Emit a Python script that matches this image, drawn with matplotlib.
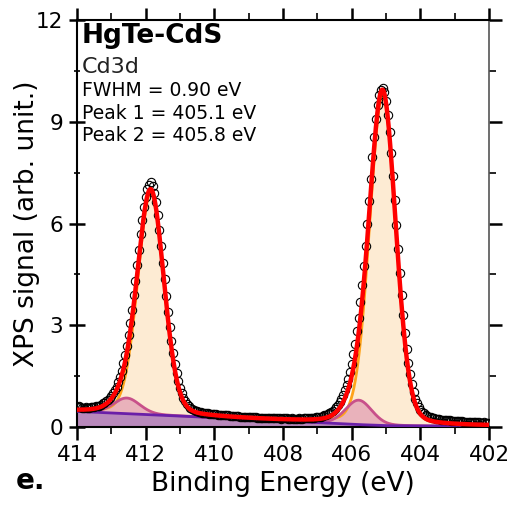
import numpy as np
import matplotlib
matplotlib.use("Agg")
import matplotlib.pyplot as plt

plt.rcParams['font.family'] = ['DejaVu Sans']

# measured XPS data (Cd3d), 414.00 -> 402.00 eV in 0.05 eV steps
signal = [
    0.60, 0.62, 0.58, 0.56, 0.57, 0.59, 0.57, 0.56, 0.58, 0.60, 0.59, 0.61, 0.62, 0.63, 0.66, 0.70, 0.72, 0.76, 0.80, 0.86,
    0.92, 0.99, 1.08, 1.19, 1.32, 1.48, 1.66, 1.88, 2.12, 2.40, 2.70, 3.06, 3.45, 3.88, 4.32, 4.78, 5.22, 5.68, 6.10, 6.48,
    6.78, 7.02, 7.15, 7.22, 7.10, 6.90, 6.62, 6.25, 5.82, 5.35, 4.85, 4.35, 3.86, 3.40, 2.95, 2.55, 2.18, 1.85, 1.58, 1.35,
    1.15, 0.99, 0.86, 0.76, 0.68, 0.62, 0.57, 0.53, 0.50, 0.48, 0.46, 0.45, 0.43, 0.42, 0.41, 0.41, 0.40, 0.39, 0.38, 0.38,
    0.37, 0.37, 0.36, 0.35, 0.35, 0.34, 0.34, 0.35, 0.34, 0.33, 0.33, 0.32, 0.32, 0.33, 0.32, 0.31, 0.31, 0.30, 0.30, 0.31,
    0.30, 0.29, 0.29, 0.30, 0.29, 0.28, 0.28, 0.28, 0.28, 0.27, 0.27, 0.28, 0.27, 0.26, 0.27, 0.26, 0.26, 0.27, 0.26, 0.25,
    0.26, 0.26, 0.26, 0.25, 0.25, 0.26, 0.25, 0.25, 0.25, 0.26, 0.25, 0.25, 0.26, 0.26, 0.26, 0.27, 0.27, 0.27, 0.28, 0.29,
    0.29, 0.30, 0.31, 0.33, 0.34, 0.36, 0.38, 0.41, 0.44, 0.48, 0.53, 0.59, 0.66, 0.74, 0.84, 0.95, 1.08, 1.24, 1.42, 1.63,
    1.86, 2.14, 2.45, 2.82, 3.22, 3.68, 4.18, 4.75, 5.35, 6.00, 6.65, 7.32, 7.95, 8.55, 9.08, 9.50, 9.80, 9.95, 10.00, 9.88,
    9.62, 9.20, 8.70, 8.08, 7.40, 6.68, 5.95, 5.25, 4.55, 3.90, 3.30, 2.78, 2.30, 1.90, 1.55, 1.26, 1.02, 0.84, 0.70, 0.59,
    0.50, 0.44, 0.40, 0.36, 0.33, 0.31, 0.29, 0.27, 0.26, 0.25, 0.24, 0.23, 0.22, 0.22, 0.21, 0.20, 0.20, 0.20, 0.19, 0.18,
    0.18, 0.18, 0.17, 0.17, 0.17, 0.16, 0.16, 0.16, 0.15, 0.15, 0.15, 0.14, 0.14, 0.15, 0.14, 0.13, 0.13, 0.14, 0.13, 0.12,
    0.12]
energy = np.linspace(414.0, 402.0, len(signal))

# fit components (pseudo-Voigt), FWHM = 0.90 eV
fwhm = 0.90
main_centers = [405.1, 411.85]
main_heights = [9.75, 6.55]
second_centers = [405.8, 412.55]
second_heights = [0.72, 0.46]
eta = 0.15

# background knots
bg_energy = [414.0, 412.0, 410.0, 408.0, 406.0, 405.0, 404.0, 402.0]
bg_values = [0.46, 0.37, 0.28, 0.18, 0.08, 0.04, 0.03, 0.03]


def pvoigt(x, c, h, w):
    d = x - c
    g = np.exp(-4 * np.log(2) * (d / w) ** 2)
    l = 1.0 / (1.0 + (2 * d / w) ** 2)
    return h * ((1 - eta) * g + eta * l)


x = np.linspace(414, 402, 1201)
bg = np.interp(x, bg_energy[::-1], bg_values[::-1])
main = sum(pvoigt(x, c, h, fwhm) for c, h in zip(main_centers, main_heights))
sec = sum(pvoigt(x, c, h, fwhm) for c, h in zip(second_centers, second_heights))
total = bg + main + sec

fig = plt.figure(figsize=(5.12, 5.08), dpi=100)
ax = fig.add_axes([0.1504, 0.1594, 0.805, 0.8012])

ax.fill_between(x, bg, bg + main, color='#fdebd3', lw=0, zorder=1)
ax.fill_between(x, bg, bg + sec, color='#e9b2bb', lw=0, zorder=2)
ax.fill_between(x, 0, bg, color='#b888bb', lw=0, zorder=2)
ax.plot(x, bg + main, color='#ffa31a', lw=2, zorder=3)
ax.plot(x, bg + sec, color='#c8508a', lw=2, zorder=3)
ax.plot(x, bg, color='#6a1fa8', lw=2, zorder=3)
ax.plot(energy, signal, 'o', ms=6, mfc='none', mec='black', mew=0.8, zorder=4)
ax.plot(x, total, color='#ff0000', lw=3.2, zorder=5)

ax.set_xlim(414, 402)
ax.set_ylim(0, 12)
ax.set_xticks([414, 412, 410, 408, 406, 404, 402])
ax.set_xticks(np.arange(402, 415, 1), minor=True)
ax.set_yticks([0, 3, 6, 9, 12])
ax.set_yticks(np.arange(0, 12.1, 1.5), minor=True)

ax.tick_params(axis='both', which='major', labelsize=15.5, width=1.8, length=9,
               direction='out', top=True, right=False, pad=4)
ax.tick_params(axis='both', which='minor', width=1.2, length=5,
               direction='out', top=True, right=False)
ax.tick_params(axis='y', which='both', direction='inout')
ax.tick_params(axis='y', which='major', length=12)

sec_ax = ax.secondary_yaxis('right')
sec_ax.set_yticks([0, 3, 6, 9, 12])
sec_ax.set_yticks(np.arange(0, 12.1, 1.5), minor=True)
sec_ax.tick_params(which='major', direction='out', length=9, width=1.8, labelright=False)
sec_ax.tick_params(which='minor', direction='out', length=5, width=1.2)
sec_ax.spines['right'].set_linewidth(1.2)
sec_ax.spines['right'].set_color('#555555')
ax.spines['right'].set_visible(False)
for s in ['left', 'bottom', 'top']:
    ax.spines[s].set_linewidth(1.5)

ax.set_xlabel('Binding Energy (eV)', fontsize=19, labelpad=4)
ax.set_ylabel('XPS signal (arb. unit.)', fontsize=19, labelpad=-3)

tx = 0.012
ax.text(tx, 0.9435, 'HgTe-CdS', transform=ax.transAxes, fontsize=19,
        fontweight='bold', va='baseline', ha='left')
ax.text(tx, 0.8698, 'Cd3d', transform=ax.transAxes, fontsize=16,
        va='baseline', ha='left', color='#222222')
ax.text(tx, 0.8133, 'FWHM = 0.90 eV', transform=ax.transAxes, fontsize=13.5,
        va='baseline', ha='left')
ax.text(tx, 0.7568, 'Peak 1 = 405.1 eV', transform=ax.transAxes, fontsize=13.5,
        va='baseline', ha='left')
ax.text(tx, 0.7027, 'Peak 2 = 405.8 eV', transform=ax.transAxes, fontsize=13.5,
        va='baseline', ha='left')

fig.text(0.03, 0.038, 'e.', fontsize=20, fontweight='bold')

fig.savefig('out.png', dpi=100)
